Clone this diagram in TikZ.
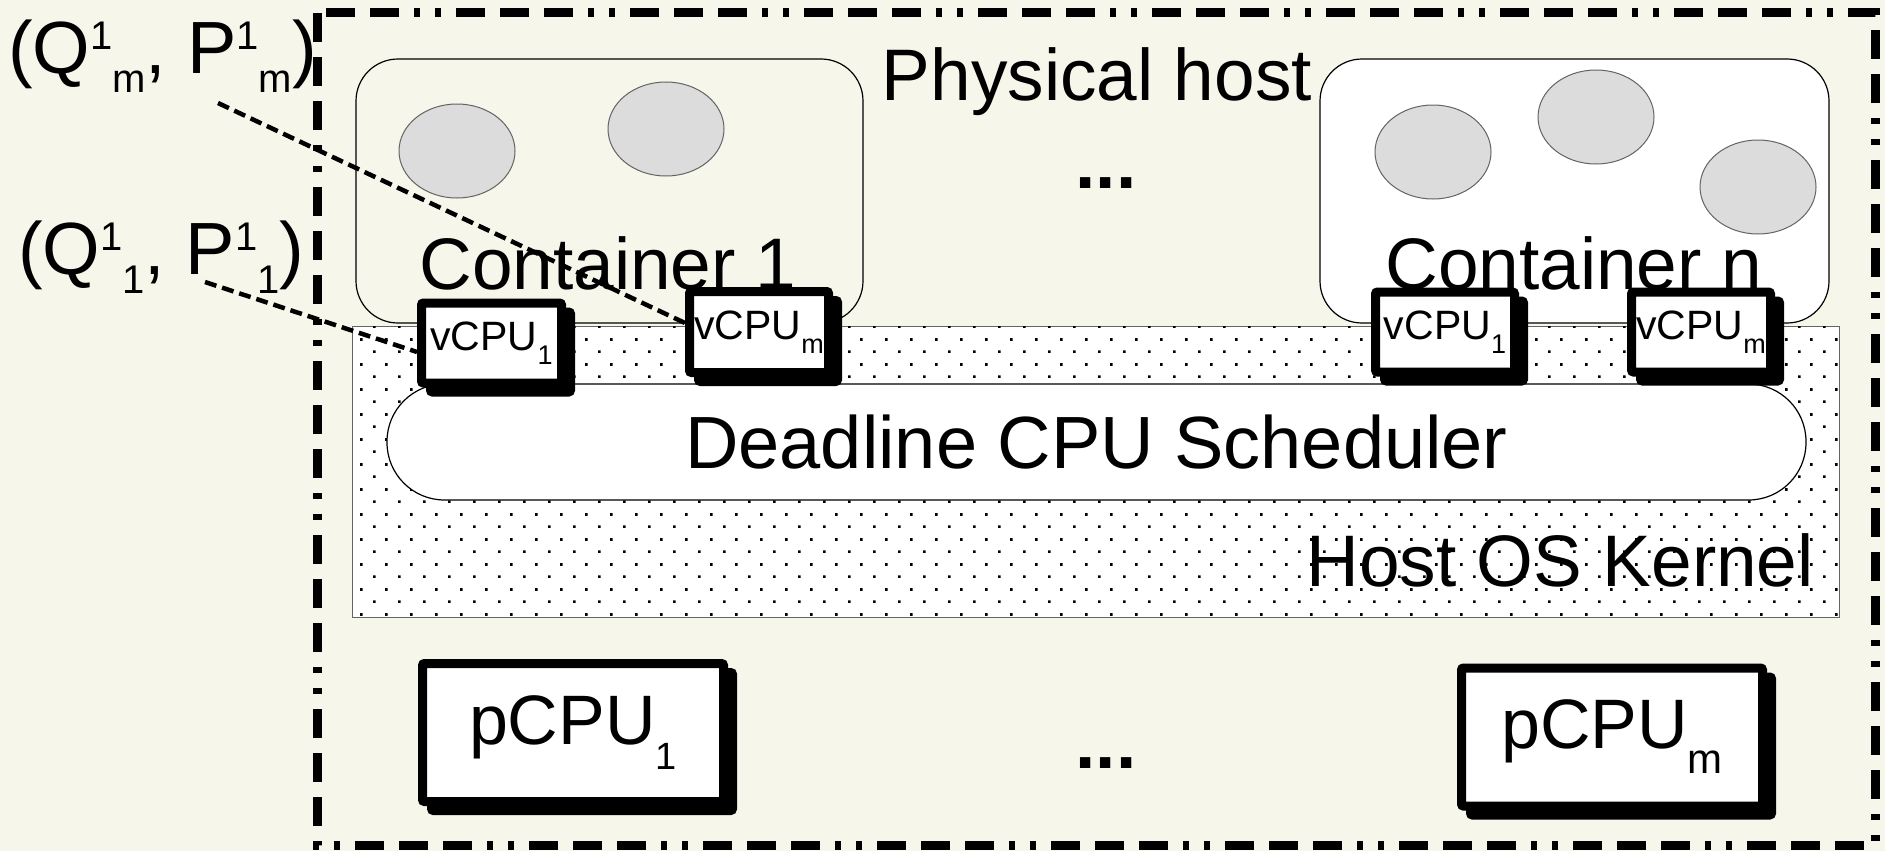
\documentclass[tikz,border=0pt]{standalone}
\usepackage{fontspec}
\setmainfont{Liberation Sans}
\usetikzlibrary{patterns,shapes.geometric}
\definecolor{cream}{RGB}{246,246,234}
\definecolor{ellfill}{RGB}{220,220,220}
\definecolor{ellline}{RGB}{100,100,100}
\definecolor{kline}{RGB}{100,100,100}
\pgfdeclarepatternformonly{kdots}{\pgfqpoint{-1.5pt}{-1.5pt}}{\pgfqpoint{23.5pt}{23.5pt}}{\pgfqpoint{25pt}{25pt}}{%
  \pgfpathrectangle{\pgfqpoint{-1.3pt}{-1.3pt}}{\pgfqpoint{2.6pt}{2.6pt}}%
  \pgfpathrectangle{\pgfqpoint{11.2pt}{11.2pt}}{\pgfqpoint{2.6pt}{2.6pt}}%
  \pgfusepath{fill}}
\newcommand{\fsz}[1]{\fontsize{#1}{#1}\selectfont}
\newcommand{\lowr}[3]{\raisebox{-#2pt}{\fsz{#1}#3}}
\newcommand{\upr}[3]{\raisebox{#2pt}{\fsz{#1}#3}}
\tikzset{
  hostframe/.style={line width=9pt, dash pattern=on 29pt off 15pt on 29pt off 15pt on 29pt off 15pt on 6pt off 15pt on 6pt off 15pt},
  contbox/.style={draw=black, line width=1.2pt, rounded corners=42pt, inner sep=0pt},
  blob/.style={ellipse, draw=ellline, line width=1pt, fill=ellfill, minimum width=116pt, minimum height=94pt, inner sep=0pt},
  cpubox/.style={draw=black, line width=9pt, fill=white, rounded corners=2pt, inner sep=0pt,
    preaction={draw=black, fill=black, line width=9pt, transform canvas={shift={(9pt,-9pt)}}}},
  bigtext/.style={font=\fsz{73}, inner sep=0pt},
  qline/.style={line width=4.5pt, dash pattern=on 12pt off 6pt},
  qlabel/.style={anchor=base west, inner sep=0pt, font=\fsz{74}},
}
\begin{document}
\begin{tikzpicture}[x=1pt, y=-1pt]
\useasboundingbox (0,0) rectangle (1885,851);
\fill[cream] (0,0) rectangle (1885,851);
% containers
\node[contbox, minimum width=507pt, minimum height=264pt] (c1) at (609.5,191) {};
\node[contbox, fill=white, minimum width=509pt, minimum height=264pt] (cn) at (1574.5,191) {};
% processes
\node[blob] (e11) at (457,151) {};
\node[blob] (e12) at (666,129) {};
\node[blob] (en1) at (1433,152) {};
\node[blob] (en2) at (1596,117) {};
\node[blob] (en3) at (1758,187) {};
% kernel
\node[draw=kline, line width=1pt, fill=white, postaction={pattern=kdots}, minimum width=1487pt, minimum height=291pt, inner sep=0pt] (kern) at (1095.5,471.5) {};
\node[draw=black, line width=1.2pt, fill=white, rounded corners=57.5pt, minimum width=1419pt, minimum height=116pt, inner sep=0pt, font=\fsz{74}] (sched) at (1096.5,442) {Deadline CPU Scheduler};
\node[bigtext, anchor=base east] (kt) at (1814,586) {Host OS Kernel};
% frame
\draw[hostframe] (317,13) rectangle (1875,845);
% texts
\node[bigtext, anchor=base] (ph) at (1097,100) {Physical host};
\node[bigtext, anchor=base] (ct1) at (608,289) {Container 1};
\node[bigtext, anchor=base] (ctn) at (1574,289) {Container n};
\node[font=\fsz{73}\bfseries, anchor=base, inner sep=0pt] (dtop) at (1106,188) {...};
\node[font=\fsz{73}\bfseries, anchor=base, inner sep=0pt] (dbot) at (1106,768) {...};
% labels
\node[qlabel] (la) at (8,74) {(Q\upr{40}{24}{1}\lowr{40}{19}{m}, P\upr{40}{24}{1}\lowr{40}{19}{m})};
\node[qlabel] (lb) at (18,274) {(Q\upr{40}{24}{1}\lowr{40}{19}{1}, P\upr{40}{24}{1}\lowr{40}{19}{1})};
% vCPUs
\node[cpubox, minimum width=140pt, minimum height=80pt, font=\fsz{41}] (va) at (491.5,343) {vCPU\lowr{27}{14}{1}};
\node[cpubox, minimum width=139pt, minimum height=81pt, font=\fsz{41}] (vb) at (759,332) {vCPU\lowr{27}{14}{m}};
\node[cpubox, minimum width=139pt, minimum height=80pt, font=\fsz{41}] (vc) at (1445,332) {vCPU\lowr{27}{14}{1}};
\node[cpubox, minimum width=139pt, minimum height=80pt, font=\fsz{41}] (vd) at (1701,332) {vCPU\lowr{27}{14}{m}};
% pCPUs
\node[cpubox, minimum width=301pt, minimum height=138pt, font=\fsz{70}] (pa) at (573,732.5) {pCPU\lowr{38}{25}{1}};
\node[cpubox, minimum width=301pt, minimum height=138pt, font=\fsz{70}] (pb) at (1612,737) {pCPU\lowr{42}{25}{m}};
% connectors
\coordinate (qa) at (218,103);
\coordinate (qb) at (205,282);
\draw[qline] (qa) -- ([yshift=9pt]vb.west);
\draw[qline] (qb) -- ([yshift=-9pt]va.west);
\end{tikzpicture}
\end{document}
